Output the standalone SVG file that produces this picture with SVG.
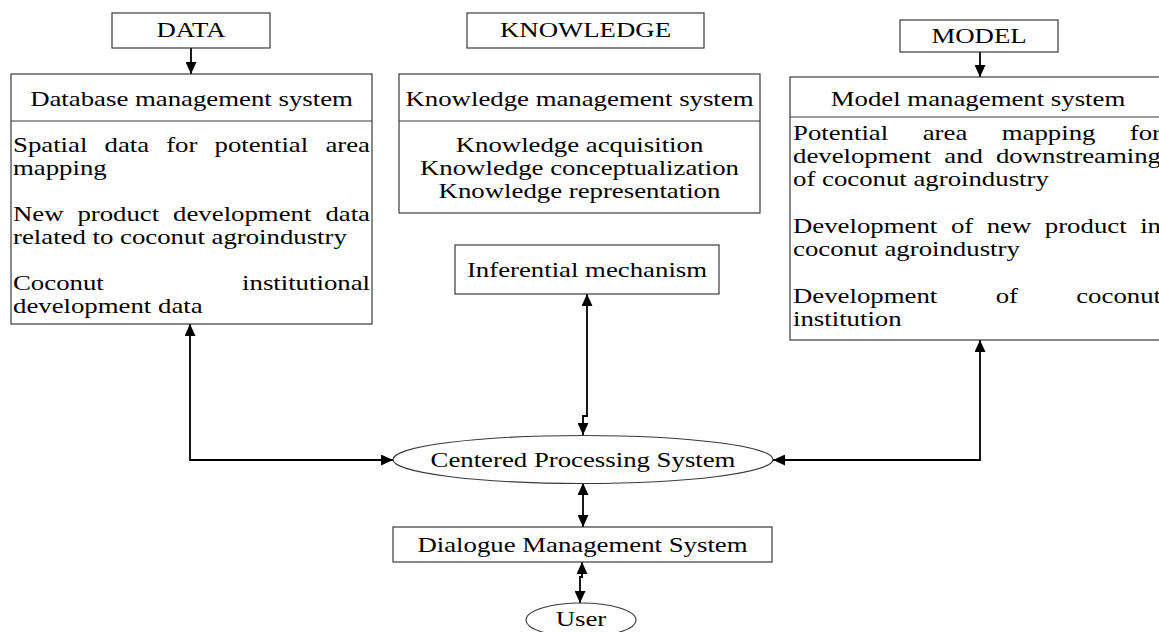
<svg xmlns="http://www.w3.org/2000/svg" width="1159" height="632" viewBox="0 0 1159 632">
  <style>
    .box { fill: #ffffff; stroke: #3a3a3a; stroke-width: 1.2; }
    .sep { stroke: #3a3a3a; stroke-width: 1.2; }
    .t { font-family: "Liberation Serif", "Times New Roman", serif; font-size: 20px; fill: #000000; }
    .m { text-anchor: middle; }
    .e { text-anchor: end; }
    .link { fill: none; stroke: #000000; stroke-width: 1.8; }
  </style>
  <defs>
    <marker id="arrow" markerUnits="userSpaceOnUse" markerWidth="13" markerHeight="11" refX="12" refY="5.5" orient="auto-start-reverse">
      <path d="M0,0 L12,5.5 L0,11 z" fill="#000000"/>
    </marker>
  </defs>
  <rect width="1159" height="632" fill="#ffffff"/>

  <!-- connectors -->
  <g id="connectors">
    <path class="link" d="M191,48 V74" marker-end="url(#arrow)"/>
    <path class="link" d="M980,52 V77" marker-end="url(#arrow)"/>
    <path class="link" d="M190,324 V460 H393" marker-start="url(#arrow)" marker-end="url(#arrow)"/>
    <path class="link" d="M587,294 V416 H583 V435" marker-start="url(#arrow)" marker-end="url(#arrow)"/>
    <path class="link" d="M980,340 V460 H773" marker-start="url(#arrow)" marker-end="url(#arrow)"/>
    <path class="link" d="M583,483 V527" marker-start="url(#arrow)" marker-end="url(#arrow)"/>
    <path class="link" d="M582,562 V577 H580 V603" marker-start="url(#arrow)" marker-end="url(#arrow)"/>
  </g>

  <!-- source labels -->
  <g id="data">
    <rect class="box" x="112" y="13" width="158" height="35"/>
    <text class="t m" transform="matrix(1.34 0 0 1 191 37)">DATA</text>
  </g>
  <g id="knowledge">
    <rect class="box" x="467" y="13" width="237" height="35"/>
    <text class="t m" transform="matrix(1.34 0 0 1 585.5 37)">KNOWLEDGE</text>
  </g>
  <g id="model">
    <rect class="box" x="900" y="20" width="158" height="32"/>
    <text class="t m" transform="matrix(1.34 0 0 1 979 43)">MODEL</text>
  </g>

  <!-- database management system -->
  <g id="dbms">
    <rect class="box" x="11" y="74" width="361" height="250"/>
    <line class="sep" x1="11" y1="121" x2="372" y2="121"/>
    <text class="t m" transform="matrix(1.34 0 0 1 191.5 106)">Database management system</text>
    <text class="t" transform="matrix(1.34 0 0 1 13 152)">Spatial</text>
    <text class="t" transform="matrix(1.34 0 0 1 104.5 152)">data</text>
    <text class="t" transform="matrix(1.34 0 0 1 166.2 152)">for</text>
    <text class="t" transform="matrix(1.34 0 0 1 214.5 152)">potential</text>
    <text class="t e" transform="matrix(1.34 0 0 1 370 152)">area</text>
    <text class="t" transform="matrix(1.34 0 0 1 13 175)">mapping</text>
    <text class="t" transform="matrix(1.34 0 0 1 13 221)">New</text>
    <text class="t" transform="matrix(1.34 0 0 1 77.4 221)">product</text>
    <text class="t" transform="matrix(1.34 0 0 1 173.1 221)">development</text>
    <text class="t e" transform="matrix(1.34 0 0 1 370 221)">data</text>
    <text class="t" transform="matrix(1.34 0 0 1 13 244)">related to coconut agroindustry</text>
    <text class="t" transform="matrix(1.34 0 0 1 13 290)">Coconut</text>
    <text class="t e" transform="matrix(1.34 0 0 1 370 290)">institutional</text>
    <text class="t" transform="matrix(1.34 0 0 1 13 313)">development data</text>
  </g>

  <!-- knowledge management system -->
  <g id="kms">
    <rect class="box" x="399" y="74" width="361" height="139"/>
    <line class="sep" x1="399" y1="121" x2="760" y2="121"/>
    <text class="t m" transform="matrix(1.34 0 0 1 579.5 106)">Knowledge management system</text>
    <text class="t m" transform="matrix(1.34 0 0 1 579.5 152)">Knowledge acquisition</text>
    <text class="t m" transform="matrix(1.34 0 0 1 579.5 175)">Knowledge conceptualization</text>
    <text class="t m" transform="matrix(1.34 0 0 1 579.5 198)">Knowledge representation</text>
  </g>

  <!-- model management system -->
  <g id="mms">
    <rect class="box" x="790" y="77" width="375" height="263"/>
    <line class="sep" x1="790" y1="117" x2="1165" y2="117"/>
    <text class="t m" transform="matrix(1.34 0 0 1 978 106)">Model management system</text>
    <text class="t" transform="matrix(1.34 0 0 1 793 140)">Potential</text>
    <text class="t" transform="matrix(1.34 0 0 1 922.7 140)">area</text>
    <text class="t" transform="matrix(1.34 0 0 1 1001.7 140)">mapping</text>
    <text class="t e" transform="matrix(1.34 0 0 1 1161 140)">for</text>
    <text class="t" transform="matrix(1.34 0 0 1 793 163)">development</text>
    <text class="t" transform="matrix(1.34 0 0 1 944.3 163)">and</text>
    <text class="t e" transform="matrix(1.34 0 0 1 1161 163)">downstreaming</text>
    <text class="t" transform="matrix(1.34 0 0 1 793 186)">of coconut agroindustry</text>
    <text class="t" transform="matrix(1.34 0 0 1 793 233)">Development</text>
    <text class="t" transform="matrix(1.34 0 0 1 950.9 233)">of</text>
    <text class="t" transform="matrix(1.34 0 0 1 986.7 233)">new</text>
    <text class="t" transform="matrix(1.34 0 0 1 1044.8 233)">product</text>
    <text class="t e" transform="matrix(1.34 0 0 1 1161 233)">in</text>
    <text class="t" transform="matrix(1.34 0 0 1 793 256)">coconut agroindustry</text>
    <text class="t" transform="matrix(1.34 0 0 1 793 303)">Development</text>
    <text class="t" transform="matrix(1.34 0 0 1 995.7 303)">of</text>
    <text class="t e" transform="matrix(1.34 0 0 1 1161 303)">coconut</text>
    <text class="t" transform="matrix(1.34 0 0 1 793 326)">institution</text>
  </g>

  <!-- inference, processing, dialogue, user -->
  <g id="inferential">
    <rect class="box" x="455" y="245" width="264" height="49"/>
    <text class="t m" transform="matrix(1.34 0 0 1 587 277)">Inferential mechanism</text>
  </g>
  <g id="cps">
    <ellipse class="box" cx="583" cy="459.5" rx="190" ry="24"/>
    <text class="t m" transform="matrix(1.34 0 0 1 583 467)">Centered Processing System</text>
  </g>
  <g id="dialogue">
    <rect class="box" x="393" y="527" width="379" height="35"/>
    <text class="t m" transform="matrix(1.34 0 0 1 582.5 552)">Dialogue Management System</text>
  </g>
  <g id="user">
    <ellipse class="box" cx="581" cy="620" rx="55" ry="17"/>
    <text class="t m" transform="matrix(1.34 0 0 1 581 626)">User</text>
  </g>
</svg>
